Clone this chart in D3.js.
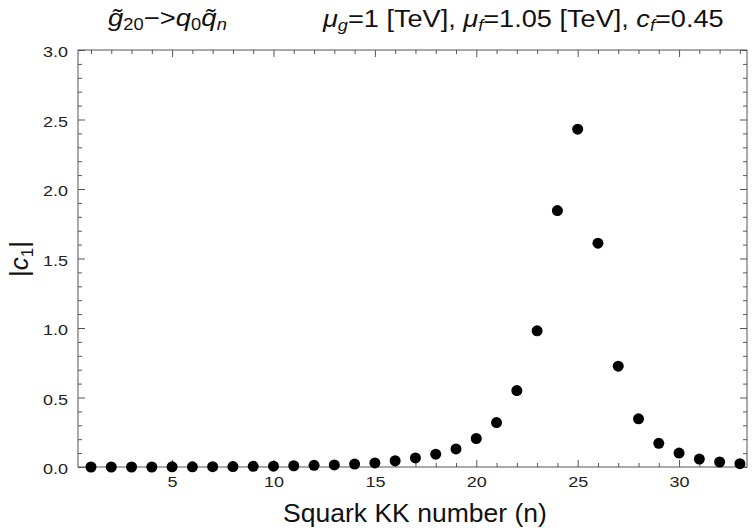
<!DOCTYPE html>
<html>
<head>
<meta charset="utf-8">
<script src="https://cdn.jsdelivr.net/npm/d3@7"></script>
<style>
  body { margin: 0; background: #fff; }
  svg { font-family: "Liberation Sans", Arial, sans-serif; }
</style>
</head>
<body>
<div id="chart"></div>
<script>
// Data
var nValues = d3.range(1, 34);
var c1Values = [0.0, 0.0, 0.0, 0.0, 0.001, 0.001, 0.002, 0.003, 0.005, 0.006,
                0.009, 0.012, 0.015, 0.021, 0.029, 0.045, 0.065, 0.092, 0.13, 0.205,
                0.32, 0.55, 0.98, 1.845, 2.43, 1.61, 0.725, 0.347, 0.17, 0.10,
                0.057, 0.036, 0.024];
var xMajorTicks = [5, 10, 15, 20, 25, 30];
var yMajorTicks = [0, 0.5, 1.0, 1.5, 2.0, 2.5, 3.0];

var W = 753, H = 530;
var margin = { top: 50, right: 6, bottom: 63, left: 78 },
    width = W - margin.left - margin.right,
    height = H - margin.top - margin.bottom;

var svg = d3.select("#chart").append("svg")
    .attr("width", W).attr("height", H);

var g = svg.append("g")
    .attr("transform", "translate(" + margin.left + "," + margin.top + ")");

var x = d3.scaleLinear().domain([0.36, 33.35]).range([0, width]);
var y = d3.scaleLinear().domain([0, 3]).range([height, 0]);

var axisColor = "#555";
var labelStretch = 1.2;  // reference glyphs run wider than Liberation Sans

// Frame
g.append("rect")
    .attr("width", width).attr("height", height)
    .attr("fill", "none").attr("stroke", axisColor).attr("stroke-width", 1);

var xMinor = d3.range(1, 34).filter(function(d) { return d % 5 !== 0; });
var yMinor = d3.range(0, 31).map(function(d) { return d / 10; })
    .filter(function(d, i) { return i % 5 !== 0; });

function styleAxis(sel) {
  sel.select(".domain").remove();
  sel.selectAll("line").attr("stroke", axisColor);
  sel.selectAll("text").attr("fill", "#222").style("font-size", "15px")
    .attr("transform", "scale(" + labelStretch + ",1)");
}

// Bottom axis (ticks inward)
g.append("g").attr("transform", "translate(0," + height + ")")
  .call(d3.axisBottom(x).tickValues(xMajorTicks).tickSize(-7).tickPadding(9).tickFormat(d3.format("d")))
  .call(styleAxis);
g.append("g").attr("transform", "translate(0," + height + ")")
  .call(d3.axisBottom(x).tickValues(xMinor).tickSize(-4).tickFormat(""))
  .call(styleAxis);
// Top axis
g.append("g")
  .call(d3.axisTop(x).tickValues(xMajorTicks).tickSize(-7).tickFormat(""))
  .call(styleAxis);
g.append("g")
  .call(d3.axisTop(x).tickValues(xMinor).tickSize(-4).tickFormat(""))
  .call(styleAxis);
// Left axis
g.append("g")
  .call(d3.axisLeft(y).tickValues(yMajorTicks).tickSize(-7).tickPadding(8.3).tickFormat(d3.format(".1f")))
  .call(styleAxis)
  .selectAll("text").attr("dy", "0.45em");
g.append("g")
  .call(d3.axisLeft(y).tickValues(yMinor).tickSize(-4).tickFormat(""))
  .call(styleAxis);
// Right axis
g.append("g").attr("transform", "translate(" + width + ",0)")
  .call(d3.axisRight(y).tickValues(yMajorTicks).tickSize(-7).tickFormat(""))
  .call(styleAxis);
g.append("g").attr("transform", "translate(" + width + ",0)")
  .call(d3.axisRight(y).tickValues(yMinor).tickSize(-4).tickFormat(""))
  .call(styleAxis);

// Points
g.selectAll("circle.pt")
  .data(nValues.map(function(n, i) { return { n: n, v: c1Values[i] }; }))
  .enter().append("circle")
  .attr("class", "pt")
  .attr("cx", function(d) { return x(d.n); })
  .attr("cy", function(d) { return y(d.v); })
  .attr("r", 5.5)
  .attr("fill", "#000");

// stretch a text horizontally so it spans x0..x1
function fitWidth(t, x0, x1) {
  var w = t.node().getBBox().width;
  t.attr("transform", "translate(" + x0 + ",0) scale(" + ((x1 - x0) / w) + ",1)");
}

// Axis labels
var xl = svg.append("text")
  .attr("x", 0).attr("y", 522)
  .style("font-size", "25px").attr("fill", "#111")
  .text("Squark KK number (n)");
fitWidth(xl, 283, 547);

var yl = svg.append("text")
  .attr("transform", "translate(28,259) rotate(-90)")
  .attr("text-anchor", "middle")
  .style("font-size", "26px").attr("fill", "#111");
yl.append("tspan").text("|");
yl.append("tspan").style("font-style", "italic").text("c");
yl.append("tspan").attr("dy", 5).style("font-size", "17px").text("1");
yl.append("tspan").attr("dy", -5).text("|");

// Titles
var t1 = svg.append("text").attr("x", 0).attr("y", 26)
  .style("font-size", "24px").attr("fill", "#111");
t1.append("tspan").style("font-style", "italic").text("g\u0303");
t1.append("tspan").attr("dy", 4).style("font-size", "16px").text("20");
t1.append("tspan").attr("dy", -4).text("\u2212>");
t1.append("tspan").style("font-style", "italic").text("q");
t1.append("tspan").attr("dy", 4).style("font-size", "16px").text("0");
t1.append("tspan").attr("dy", -4).style("font-style", "italic").text("q\u0303");
t1.append("tspan").attr("dy", 4).style("font-size", "16px").style("font-style", "italic").text("n");
fitWidth(t1, 108, 227);

var t2 = svg.append("text").attr("x", 0).attr("y", 27)
  .style("font-size", "24px").attr("fill", "#111");
t2.append("tspan").style("font-style", "italic").text("\u03bc");
t2.append("tspan").attr("dy", 4).style("font-size", "16px").style("font-style", "italic").text("g");
t2.append("tspan").attr("dy", -4).text("=1 [TeV], ");
t2.append("tspan").style("font-style", "italic").text("\u03bc");
t2.append("tspan").attr("dy", 4).style("font-size", "16px").style("font-style", "italic").text("f");
t2.append("tspan").attr("dy", -4).text("=1.05 [TeV], ");
t2.append("tspan").style("font-style", "italic").text("c");
t2.append("tspan").attr("dy", 4).style("font-size", "16px").style("font-style", "italic").text("f");
t2.append("tspan").attr("dy", -4).text("=0.45");
fitWidth(t2, 323, 725);
</script>
</body>
</html>
